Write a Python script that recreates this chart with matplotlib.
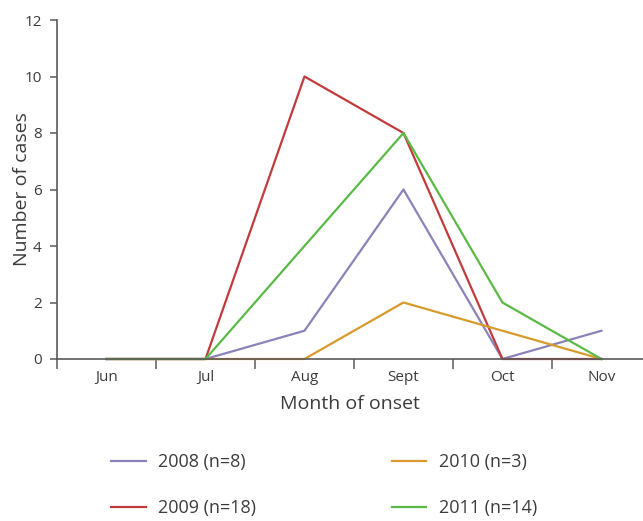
import matplotlib
matplotlib.use("Agg")
import matplotlib.pyplot as plt

months = ["Jun", "Jul", "Aug", "Sept", "Oct", "Nov"]
series_labels = ["2008 (n=8)", "2009 (n=18)", "2010 (n=3)", "2011 (n=14)"]
cases_2008 = [0, 0, 1, 6, 0, 1]
cases_2009 = [0, 0, 10, 8, 0, 0]
cases_2010 = [0, 0, 0, 2, 1, 0]
cases_2011 = [0, 0, 4, 8, 2, 0]
colors = ["#8b82b9", "#c23b3c", "#d89a2c", "#5bb946"]

plt.rcParams["font.family"] = ["Open Sans", "DejaVu Sans"]
axis_color = "#5a5a5a"
text_color = "#3c3c3c"

fig = plt.figure(figsize=(6.43, 5.21), dpi=100)
ax = fig.add_axes([57 / 643, 1 - 359 / 521, 1 - 57 / 643, (359 - 20) / 521])

x = list(range(len(months)))
for vals, lab, col in zip([cases_2008, cases_2009, cases_2010, cases_2011], series_labels, colors):
    ax.plot(x, vals, color=col, lw=1.6, label=lab, clip_on=False)

ax.set_ylim(0, 12)
ax.set_xlim(-0.5, 5.42)
ax.set_yticks(range(0, 13, 2))
ax.set_xticks([i - 0.5 for i in range(6)])
ax.set_xticklabels([])
ax.set_xticks(x, minor=True)
ax.set_xticklabels(months, minor=True)
ax.tick_params(axis="x", which="major", length=7, width=1.1, color=axis_color, direction="out")
ax.tick_params(axis="x", which="minor", length=0, pad=8, labelsize=11, labelcolor=text_color)
ax.tick_params(axis="y", length=5, width=1.1, color=axis_color, pad=6, labelsize=11, labelcolor=text_color)

for s in ["top", "right"]:
    ax.spines[s].set_visible(False)
for s in ["left", "bottom"]:
    ax.spines[s].set_color(axis_color)
    ax.spines[s].set_linewidth(1.2)

ax.set_ylabel("Number of cases", fontsize=14, color=text_color)
ax.yaxis.set_label_coords(-0.044, 0.5)
ax.set_xlabel("Month of onset", fontsize=14, color=text_color, labelpad=7)

fig.legend(loc="upper left", bbox_to_anchor=(95 / 643, 1 - 437 / 521), ncol=2,
           frameon=False, fontsize=13, handlelength=1.9, handletextpad=0.7,
           columnspacing=7.5, labelspacing=1.55, labelcolor=text_color)

fig.savefig("out.png", dpi=100)
